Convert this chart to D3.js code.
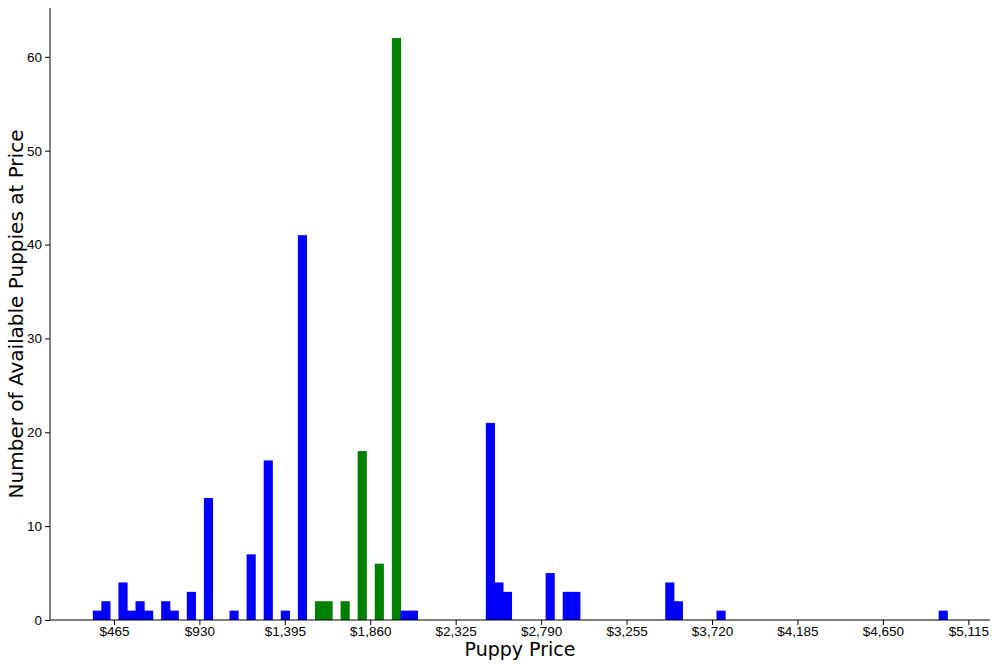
<!DOCTYPE html>
<html><head><meta charset="utf-8">
<script src="https://cdn.jsdelivr.net/npm/d3@7"></script>
<style>body{margin:0;background:#fff}svg{font-family:"DejaVu Sans",sans-serif}</style>
</head><body><svg id="c" width="1000" height="666"></svg>
<script>
const binMin = 350, binWidth = 46.5;
const binIndex = [0,1,3,4,5,6,8,9,11,13,16,18,20,22,24,26,27,29,31,33,35,36,37,46,47,48,53,55,56,67,68,73,99];
const counts   = [1,2,4,1,2,1,2,1,3,13,1,7,17,1,41,2,2,2,18,6,62,1,1,21,4,3,5,3,3,4,2,1,1];
const groups   = ["b","b","b","b","b","b","b","b","b","b","b","b","b","b","b","g","g","g","g","g","g","b","b","b","b","b","b","b","b","b","b","b","b"];
const xTicks = [465,930,1395,1860,2325,2790,3255,3720,4185,4650,5115];
const yTicks = [0,10,20,30,40,50,60];
const colors = {b:"#0000ff", g:"#008000"};

const svg = d3.select("#c");
const L=50,R=990,T=8,B=620;
const x = d3.scaleLinear().domain([117,5233]).range([L,R]);
const y = d3.scaleLinear().domain([0,65.2]).range([B,T]);

svg.selectAll("rect.bar").data(binIndex.map((b,i)=>({x0:binMin+b*binWidth,c:counts[i],g:groups[i]})))
 .enter().append("rect")
 .attr("x",d=>x(d.x0)).attr("width",d=>x(d.x0+binWidth)-x(d.x0)+0.6)
 .attr("y",d=>y(d.c)).attr("height",d=>y(0)-y(d.c))
 .attr("fill",d=>colors[d.g]);

const fmt = d=>"$"+d3.format(",")(d);
const xa = svg.append("g").attr("transform",`translate(0,${B})`)
 .call(d3.axisBottom(x).tickValues(xTicks).tickFormat(fmt).tickSizeOuter(0).tickSize(5));
const ya = svg.append("g").attr("transform",`translate(${L},0)`)
 .call(d3.axisLeft(y).tickValues(yTicks).tickSizeOuter(0).tickSize(5));
[xa,ya].forEach(a=>{a.selectAll("text").attr("font-size",13.5).attr("fill","#000");a.select(".domain").attr("stroke","#000");a.selectAll(".tick line").attr("stroke","#000");});
xa.selectAll("text").attr("dy","0.6em");
xa.select(".domain").attr("d",`M${L},0H${R}`);
ya.select(".domain").attr("d",`M0,${B}V${T}`);

svg.append("text").attr("x",(L+R)/2).attr("y",656).attr("text-anchor","middle").attr("font-size",19).text("Puppy Price");
svg.append("text").attr("transform",`translate(23,${(T+B)/2}) rotate(-90)`).attr("text-anchor","middle").attr("font-size",20).text("Number of Available Puppies at Price");
</script></body></html>
